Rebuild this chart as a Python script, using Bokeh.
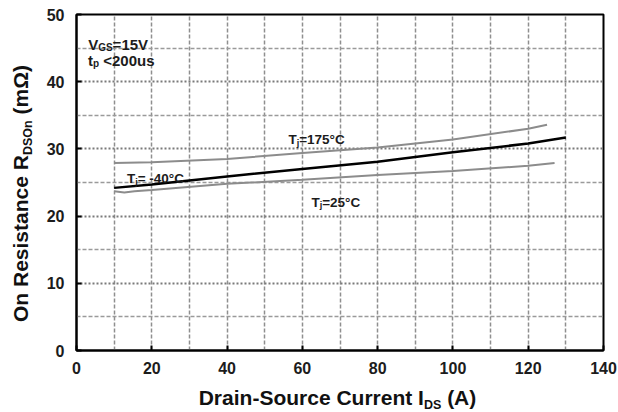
from bokeh.embed import file_html
from bokeh.layouts import column, row
from bokeh.models import Div, FixedTicker, Grid, Label, Range1d
from bokeh.plotting import figure
from bokeh.resources import INLINE

# Drain current (A) and on-resistance (mOhm) per junction temperature
current_175 = [10, 20, 40, 60, 80, 100, 120, 125]
rds_175 = [27.9, 28.0, 28.5, 29.4, 30.2, 31.4, 33.0, 33.6]

current_m40 = [10, 20, 30, 40, 60, 80, 100, 120, 130]
rds_m40 = [24.2, 24.7, 25.3, 25.9, 27.0, 28.1, 29.5, 30.8, 31.7]

current_25 = [10, 12.7, 15.4, 20, 40, 60, 80, 100, 120, 127]
rds_25 = [23.7, 23.5, 23.7, 23.9, 24.8, 25.4, 26.1, 26.7, 27.5, 27.9]

x_ticks = [0, 20, 40, 60, 80, 100, 120, 140]
y_ticks = [0, 10, 20, 30, 40, 50]
x_grid = [10, 20, 30, 40, 50, 60, 70, 80, 90, 100, 110, 120, 130]
y_grid_major = [10, 20, 30, 40]
y_grid_minor = [5, 15, 25, 35, 45]

FONT = "Liberation Sans"
INK = "#1c1c1c"
GREY_LINE = "#8c8c8c"

p = figure(
    width=578, height=382,
    x_range=Range1d(0, 140), y_range=Range1d(0, 50),
    output_backend="svg", toolbar_location=None,
    min_border_left=36, min_border_right=15,
    min_border_top=14, min_border_bottom=32,
    background_fill_color="white", border_fill_color="white",
    margin=0,
)
p.outline_line_color = "black"
p.outline_line_width = 2

for ax, ticks in ((p.xaxis, x_ticks), (p.yaxis, y_ticks)):
    ax.ticker = FixedTicker(ticks=ticks)
    ax.axis_line_color = "black"
    ax.axis_line_width = 2
    ax.major_tick_in = 5
    ax.major_tick_out = 0
    ax.major_tick_line_width = 2
    ax.major_tick_line_color = "black"
    ax.minor_tick_line_color = None
    ax.major_label_text_font = FONT
    ax.major_label_text_font_style = "bold"
    ax.major_label_text_font_size = "16px"
    ax.major_label_text_color = INK
p.xaxis.major_label_standoff = 11
p.yaxis.major_label_standoff = 12

# grid: dashed verticals, dotted majors and dashed minors horizontally
p.xgrid.ticker = FixedTicker(ticks=x_grid)
p.xgrid.grid_line_color = "#8f8f8f"
p.xgrid.grid_line_dash = "4 2"
p.xgrid.grid_line_width = 1.5
p.ygrid.ticker = FixedTicker(ticks=y_grid_major)
p.ygrid.grid_line_color = "#7a7a7a"
p.ygrid.grid_line_dash = "2 2"
p.ygrid.grid_line_width = 2
p.add_layout(Grid(dimension=1, ticker=FixedTicker(ticks=y_grid_minor),
                  grid_line_color="#9a9a9a", grid_line_dash="4 2",
                  grid_line_width=1.5))

p.line(current_175, rds_175, line_color=GREY_LINE, line_width=2)
p.line(current_25, rds_25, line_color=GREY_LINE, line_width=2)
p.line(current_m40, rds_m40, line_color="black", line_width=2.5)

# Liberation Sans Bold advance widths (1/1000 em) for laying out rich text
W = {' ': 278, '\u00a0': 278, '(': 333, ')': 333, '-': 333, '<': 584,
     '=': 584, '°': 400, 'C': 722, 'G': 778, 'S': 667, 'T': 611, 'V': 667,
     'j': 278, 'p': 611, 's': 556, 't': 333, 'u': 611}


def text_width(s, size):
    return sum(W.get(ch, 556) for ch in s) / 1000 * size


def rich_label(x, y, parts, size, sub_size, drop, color=INK):
    pos = 0.0
    for txt, sub in parts:
        sz = sub_size if sub else size
        p.add_layout(Label(
            x=x, y=y, text=txt, x_offset=pos, y_offset=-drop if sub else 0,
            text_font=FONT, text_font_style="bold", text_font_size=f"{sz}px",
            text_baseline="alphabetic", text_align="left", text_color=color))
        pos += text_width(txt, sz)


# test conditions
rich_label(3.1, 45.6, [("V", False), ("GS", True), ("=15V", False)], 15, 10, 3)
rich_label(3.05, 43.15, [("t", False), ("p", True), ("\u00a0<200us", False)], 15, 10, 3)

# curve labels
rich_label(56.3, 31.35, [("T", False), ("j", True), ("=175°C", False)], 13.5, 9, 3)
rich_label(13.4, 25.55, [("T", False), ("j", True), ("=\u00a0-40°C", False)], 13.5, 9, 3)
rich_label(62.4, 22.07, [("T", False), ("j", True), ("=25°C", False)], 13.5, 9, 3)

# axis titles with subscripts, set as HTML beside and below the plot
TITLE_CSS = ("font-family:'Liberation Sans'; font-weight:bold; font-size:21px;"
             " color:#111111; white-space:nowrap;")
SUB = '<span style="font-size:12.5px; position:relative; top:4px;">{}</span>'

y_title = Div(
    text=(f'<div style="{TITLE_CSS} width:382px; height:40px; line-height:42px;'
          ' text-align:center; padding-right:5px; box-sizing:border-box;'
          ' transform-origin:0 0; transform:translate(0,382px) rotate(-90deg);">'
          f'On Resistance R{SUB.format("DSOn")} (m\u03a9)</div>'),
    width=40, height=382, margin=0, styles={"overflow": "visible"},
)
x_title = Div(
    text=(f'<div style="{TITLE_CSS} width:618px; height:30px; line-height:31px;'
          ' text-align:center; padding-left:57px; box-sizing:border-box;">'
          f'Drain-Source Current I{SUB.format("DS")} (A)</div>'),
    width=618, height=30, margin=0, styles={"overflow": "visible"},
)

layout = column(row(y_title, p, spacing=0, margin=0), x_title,
                 spacing=0, margin=0)

open("out.html", "w").write(file_html(layout, INLINE))
